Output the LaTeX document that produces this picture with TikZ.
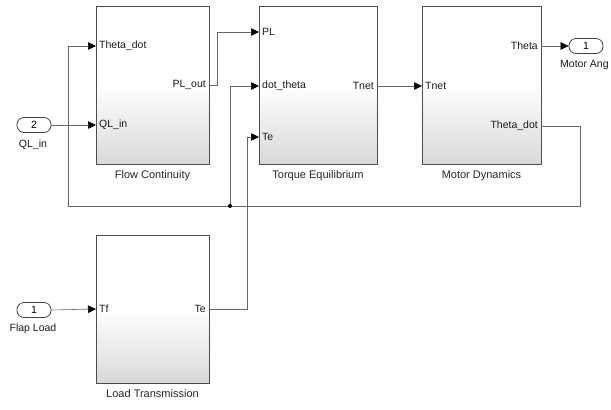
\documentclass[tikz,border=0pt]{standalone}
\usepackage{fontspec}
\setmainfont{Liberation Sans}
\usetikzlibrary{arrows.meta}
\begin{document}
\begin{tikzpicture}[x=1pt,y=-1pt,
  block/.style={draw=black!70, line width=0.9pt, top color=white, bottom color=black!15, middle color=white, minimum width=113pt, minimum height=158pt, inner sep=0pt},
  port/.style={draw=black!75, line width=0.8pt, rounded corners=7pt, minimum width=34pt, minimum height=15pt, inner sep=0pt, fill=white, font=\fontsize{10.5}{12}\selectfont},
  plabel/.style={font=\fontsize{10.5}{12}\selectfont, text=black!90, inner sep=0pt},
  blabel/.style={font=\fontsize{11}{13}\selectfont, text=black!85, inner sep=0pt},
  wire/.style={draw=black!60, line width=0.6pt},
  arr/.style={wire, -{Triangle[length=8pt,width=7.5pt,color=black,fill=black]}},
  dot/.style={circle, fill=black, inner sep=0pt, minimum size=4pt}
]
\useasboundingbox (0,0) rectangle (611,410);

% blocks
\node[block] (fc) at (152.5,85) {};
\node[block, minimum width=118pt] (te) at (318,85) {};
\node[block, minimum width=119pt] (md) at (481.5,85) {};
\node[block, minimum height=148pt] (lt) at (152.5,309) {};

\node[blabel] (fcl) at (152.5,176) {Flow Continuity};
\node[blabel] (tel) at (318,176) {Torque Equilibrium};
\node[blabel] (mdl) at (481.5,176) {Motor Dynamics};
\node[blabel] (ltl) at (152.5,394) {Load Transmission};

% port coordinates
\coordinate (fcin1) at (96,46);
\coordinate (fcin2) at (96,125);
\coordinate (fcout) at (209,85);
\coordinate (tein1) at (259,32);
\coordinate (tein2) at (259,86);
\coordinate (tein3) at (259,137);
\coordinate (teout) at (377,86);
\coordinate (mdin) at (422,86);
\coordinate (mdout1) at (541,46);
\coordinate (mdout2) at (541,126);
\coordinate (ltin) at (96,309);
\coordinate (ltout) at (209,309);

% port labels
\node[plabel, anchor=west] (l1) at (99,46) {Theta\_dot};
\node[plabel, anchor=west] (l2) at (99,125) {QL\_in};
\node[plabel, anchor=east] (l3) at (206,85) {PL\_out};
\node[plabel, anchor=west] (l4) at (262,32) {PL};
\node[plabel, anchor=west] (l5) at (262,86) {dot\_theta};
\node[plabel, anchor=west] (l6) at (262,137) {Te};
\node[plabel, anchor=east] (l7) at (374,86) {Tnet};
\node[plabel, anchor=west] (l8) at (425,86) {Tnet};
\node[plabel, anchor=east] (l9) at (538,46) {Theta};
\node[plabel, anchor=east] (l10) at (538,126) {Theta\_dot};
\node[plabel, anchor=west] (l11) at (99,309) {Tf};
\node[plabel, anchor=east] (l12) at (206,309) {Te};

% in/out ports
\node[port] (ql) at (34,125) {2};
\node[plabel] (qll) at (33,145) {QL\_in};
\node[port] (fl) at (34,310) {1};
\node[plabel] (fll) at (33,329) {Flap Load};
\node[port] (ma) at (586,46) {1};
\node[plabel, anchor=west] (mal) at (560,65) {Motor Ang};

% junction
\coordinate (J) at (230,206);
\coordinate (fbR) at (580,206);
\coordinate (fbL) at (68,206);

% wires
\draw[arr] (ql.east) -- (fcin2);
\draw[arr] (fcout) -- ++(8,0) |- (tein1);
\draw[arr] (teout) -- (mdin);
\draw[arr] (mdout1) -- (ma.west);
\draw[arr] (fl.east) -- (ltin);
\draw[arr] (ltout) -- (247,309) |- (tein3);
\draw[wire] (mdout2) -| (fbR) -- (J);
\draw[arr] (J) -- (fbL) |- (fcin1);
\draw[arr] (J) |- (tein2);
\node[dot] (jd) at (J) {};
\end{tikzpicture}
\end{document}
